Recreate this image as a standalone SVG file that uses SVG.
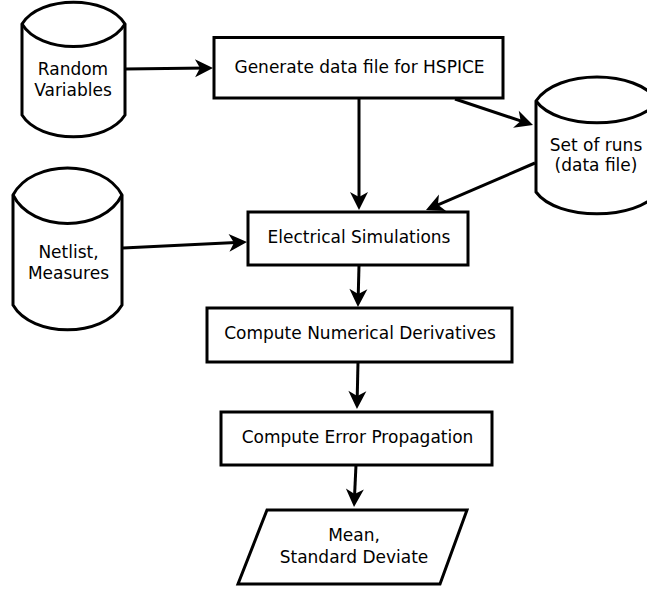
<svg xmlns="http://www.w3.org/2000/svg" width="647" height="592" viewBox="0 0 647 592">
<style>
.s{fill:#fff;stroke:#000;stroke-width:3;stroke-linejoin:miter}
.i{fill:none;stroke:#000;stroke-width:3}
.c{fill:none;stroke:#000;stroke-width:3;marker-end:url(#ah)}
text{font-family:"DejaVu Sans",Verdana,sans-serif;font-size:17px;fill:#000;text-anchor:middle}
</style>
<defs>
<marker id="ah" markerUnits="userSpaceOnUse" markerWidth="20" markerHeight="20" refX="12" refY="9" orient="auto" overflow="visible">
<path d="M18,9 L0,0 L5,9 L0,18 Z" fill="#000"/>
</marker>
</defs>
<rect width="647" height="592" fill="#fff"/>
<g id="connectors">
<path class="c" d="M125,69 L207,68"/>
<path class="c" d="M359,98 L359,204"/>
<path class="c" d="M455,99 L527.3,123.1"/>
<path class="c" d="M535,163 L431.5,207.6"/>
<path class="c" d="M123,248 L241,242.3"/>
<path class="c" d="M359,265 L358.1,301"/>
<path class="c" d="M358,362 L357.1,403"/>
<path class="c" d="M356,465 L354.3,501"/>
</g>
<g id="random">
<path class="s" d="M22,24 C40,-5 107,-5 125,24 L125,115 C107,144 40,144 22,115 Z"/>
<path class="i" d="M22,24 C40,54 107,54 125,24"/>
<text x="73" y="75">Random</text>
<text x="73" y="96">Variables</text>
</g>
<g id="generate">
<rect class="s" x="214" y="37.5" width="289" height="60.5"/>
<text x="359.5" y="73">Generate data file for HSPICE</text>
</g>
<g id="setofruns">
<path class="s" d="M536,101 C557,69 637,69 658,101 L658,192 C637,221 557,221 536,192 Z"/>
<path class="i" d="M536,101 C557,130 637,130 658,101"/>
<text x="596" y="151">Set of runs</text>
<text x="596" y="171">(data file)</text>
</g>
<g id="netlist">
<path class="s" d="M13,195 C32,159 103,159 122,195 L122,305 C103,338 32,338 13,305 Z"/>
<path class="i" d="M13,195 C32,233 103,233 122,195"/>
<text x="68.5" y="258">Netlist,</text>
<text x="68.5" y="279">Measures</text>
</g>
<g id="electrical">
<rect class="s" x="248" y="212" width="220" height="53"/>
<text x="359" y="243">Electrical Simulations</text>
</g>
<g id="numerical">
<rect class="s" x="207" y="308" width="305" height="54"/>
<text x="360" y="339">Compute Numerical Derivatives</text>
</g>
<g id="error">
<rect class="s" x="221" y="412" width="271" height="53"/>
<text x="357.5" y="443">Compute Error Propagation</text>
</g>
<g id="result">
<path class="s" d="M267,510 L467,510 L440,584 L238,584 Z"/>
<text x="354" y="541">Mean,</text>
<text x="354" y="563">Standard Deviate</text>
</g>
</svg>
